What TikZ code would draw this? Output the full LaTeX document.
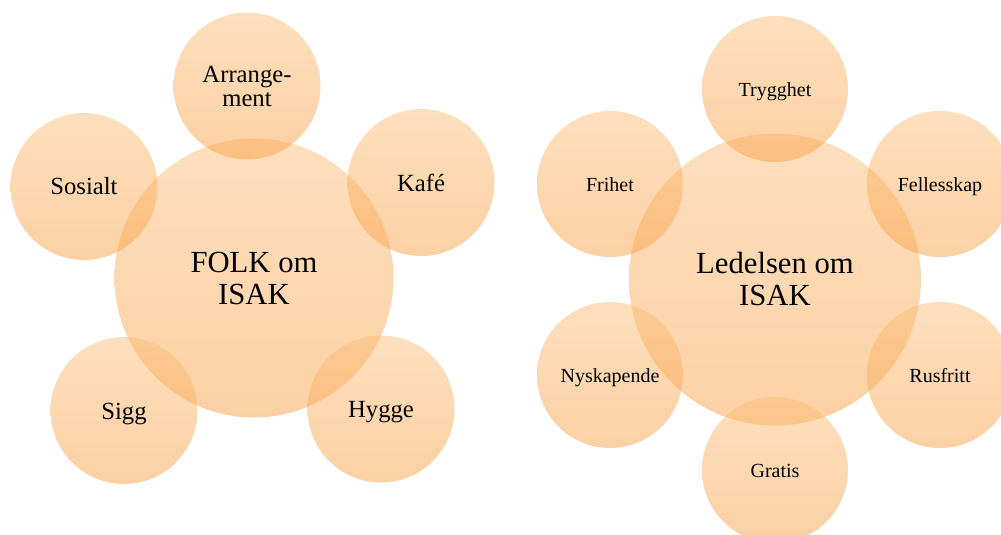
\documentclass[tikz,border=0pt]{standalone}
\usepackage{fontspec}
\setmainfont{Liberation Serif}
\definecolor{bubtop}{RGB}{251,192,124}
\definecolor{bubbot}{RGB}{250,162,72}
\tikzset{
  bubble/.style={circle, inner sep=0pt, outer sep=0pt, draw=none,
    top color=bubtop, bottom color=bubbot, fill opacity=0.5,
    text opacity=1, text=black},
  hub/.style={bubble, align=center, font=\fontsize{23}{24}\selectfont},
  petalL/.style={bubble, minimum size=110.25pt, text height=12.75pt, text depth=0pt,
    font=\fontsize{18.5}{18}\selectfont},
  petalR/.style={bubble, minimum size=109.5pt, text height=11pt, text depth=0pt,
    font=\fontsize{15}{16}\selectfont}
}
\begin{document}
\begin{tikzpicture}[x=0.75pt, y=-0.75pt]
\useasboundingbox (0,0) rectangle (1001,535);
\clip (0,0) rectangle (1001,535);

% FOLK om ISAK
\node[hub, minimum size=209.25pt] (folk) at (254,278) {FOLK om\\ISAK};
\node[petalL] (arr) at (247,86) {};
\node[align=center, inner sep=0pt, font=\fontsize{18.5}{18}\selectfont] (arrtxt) at (arr.center) {Arrange-\\ment};
\node[petalL] (sos) at (84,186.5) {Sosialt};
\node[petalL] (kafe) at (421,182.5) {Kafé};
\node[petalL] (sigg) at (124,410.5) {Sigg};
\node[petalL] (hygge) at (381,409) {Hygge};

% Ledelsen om ISAK
\node[hub, minimum size=219pt] (led) at (775,279.5) {Ledelsen om\\ISAK};
\node[petalR] (tryg) at (775,89) {Trygghet};
\node[petalR] (fri) at (610,184) {Frihet};
\node[petalR] (fell) at (940,184) {Fellesskap};
\node[petalR] (nysk) at (610,375) {Nyskapende};
\node[petalR] (rus) at (940,375) {Rusfritt};
\node[petalR] (grat) at (775,470) {Gratis};
\end{tikzpicture}
\end{document}
